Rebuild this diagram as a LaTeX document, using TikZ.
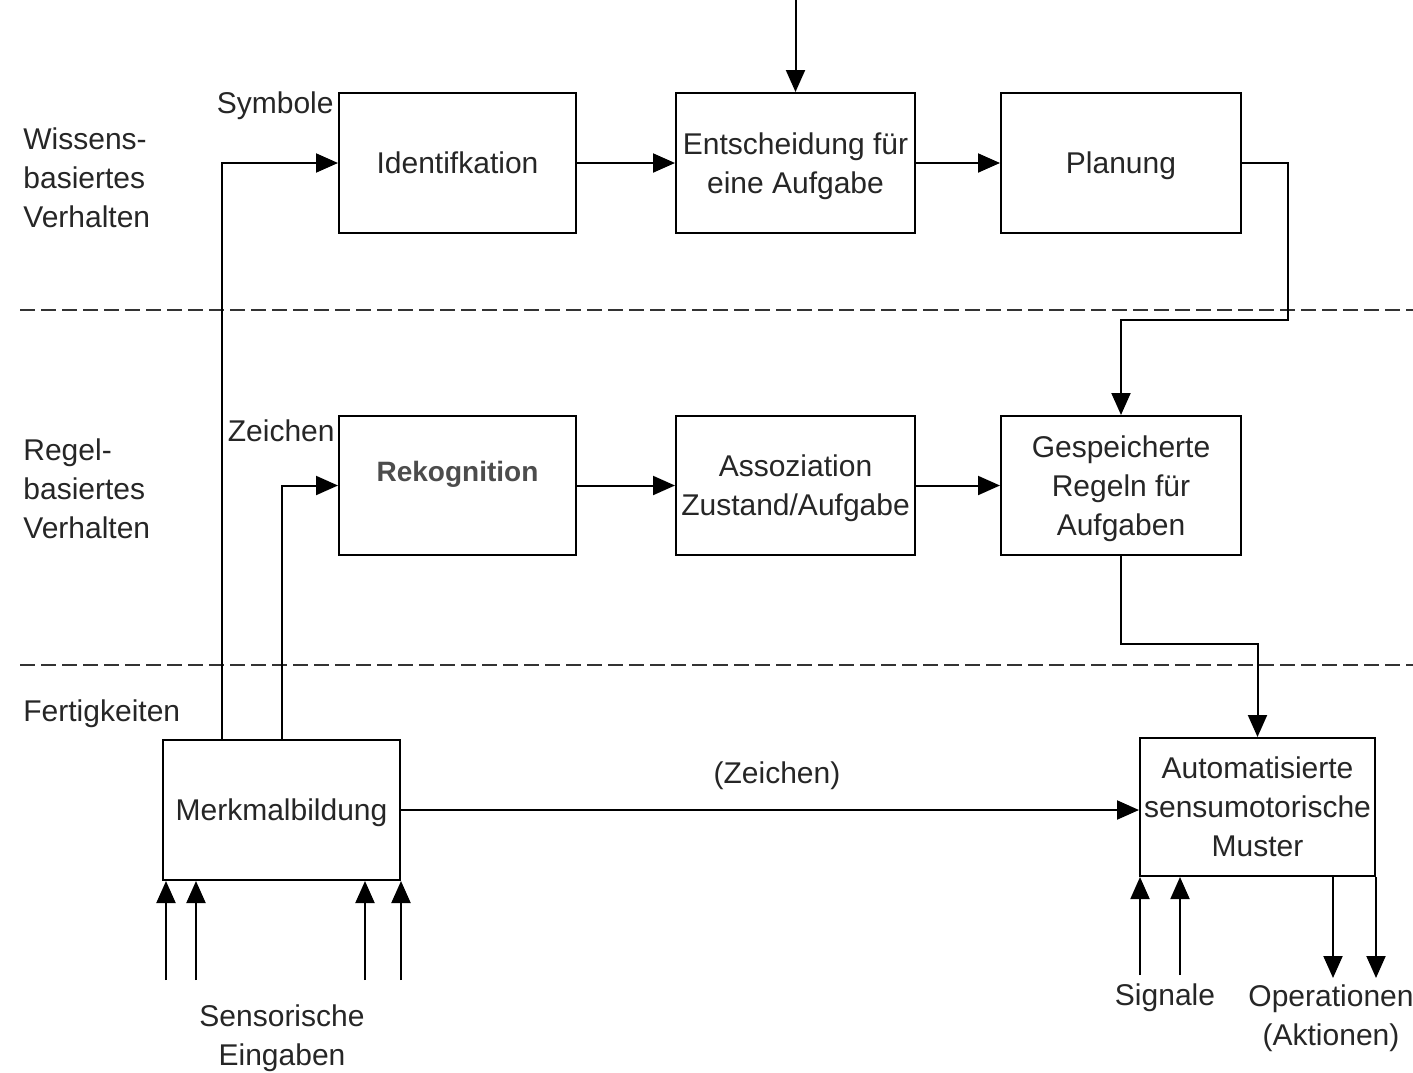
\documentclass[tikz,border=0pt]{standalone}
\usepackage{fontspec}
\setmainfont{Liberation Sans}
\usetikzlibrary{arrows.meta}
\newcommand{\lowr}{\rule{0pt}{14pt}}
\tikzset{
  box/.style={draw, line width=1pt, minimum width=118.5pt, minimum height=70pt, inner sep=0pt, align=center, text=black!85, font=\fontsize{15}{19.5}\selectfont},
  lower/.style={execute at begin node={\rule{0pt}{14pt}}},
  lbl/.style={inner sep=0pt, align=center, text=black!85, font=\fontsize{15}{19.5}\selectfont},
  conn/.style={line width=1pt, -{Triangle[length=11pt,width=9.5pt]}},
  sep/.style={line width=1pt, dash pattern=on 7.5pt off 3pt, black!80}
}
\begin{document}
\begin{tikzpicture}[x=0.5pt,y=-0.5pt]
\fill[white] (0,0) rectangle (1413,1072);
\useasboundingbox (0,0) rectangle (1413,1072);

% separators
\draw[sep] (20,310) -- (1413,310);
\draw[sep] (20,665) -- (1413,665);

% boxes
\node[box] (ident) at (457.5,163) {Identifkation};
\node[box, minimum width=119.5pt] (entsch) at (795.5,163) {\lowr Entscheidung für\\eine Aufgabe};
\node[box, lower, minimum width=120pt] (plan) at (1121,163) {Planung};
\node[box, minimum height=69.5pt, text=black!70, font=\fontsize{14}{18}\selectfont\bfseries] (rekog) at (457.5,485.5) {\raisebox{5.5pt}[\height][\depth]{Rekognition}};
\node[box, minimum width=119.5pt, minimum height=69.5pt] (assoz) at (795.5,485.5) {\lowr Assoziation\\Zustand/Aufgabe};
\node[box, minimum width=120pt, minimum height=69.5pt] (gesp) at (1121,485.5) {\lowr Gespeicherte\\Regeln für\\Aufgaben};
\node[box, lower] (merk) at (281.5,810) {Merkmalbildung};
\node[box, minimum width=117.5pt, minimum height=69pt] (auto) at (1257.5,807) {Automatisierte\\sensumotorische\\Muster};

% side labels
\node[lbl, align=left, anchor=west] (wis) at (23,178) {Wissens-\\basiertes\\Verhalten};
\node[lbl, align=left, anchor=west] (reg) at (23,489) {Regel-\\basiertes\\Verhalten};
\node[lbl, anchor=west] (fert) at (23,714) {Fertigkeiten};

\node[lbl, anchor=east] (sym) at (334,106) {Symbole};
\node[lbl, anchor=east] (zei) at (335,431) {Zeichen};
\node[lbl] (zei2) at (777,776) {(Zeichen)};
\node[lbl] (sens) at (282,1038) {Sensorische\\Eingaben};
\node[lbl] (sig) at (1165,998) {Signale};
\node[lbl] (ops) at (1331,1018) {Operationen\\(Aktionen)};

% coordinates
\coordinate (top) at (795.5,0);
\coordinate (m1) at (222,740);
\coordinate (m2) at (282,740);
\coordinate (c1) at (1288,320);
\coordinate (s1) at (166,980);
\coordinate (s2) at (196,980);
\coordinate (s3) at (365,980);
\coordinate (s4) at (401,980);
\coordinate (g1) at (1140,975);
\coordinate (g2) at (1180,975);
\coordinate (o1) at (1333,978);
\coordinate (o2) at (1376,978);

% connectors
\draw[conn] (top) -- (entsch.north);
\draw[conn] (ident.east) -- (entsch.west);
\draw[conn] (entsch.east) -- (plan.west);
\draw[conn] (m1) |- (ident.west);
\draw[conn] (m2) |- (rekog.west);
\draw[conn] (rekog.east) -- (assoz.west);
\draw[conn] (assoz.east) -- (gesp.west);
\draw[conn] (plan.east) -| (c1) -| (gesp.north);
\draw[conn] (gesp.south) -- ++(0,88) -| (auto.north);
\draw[conn] (merk.east) -- (merk.east -| auto.west);

\draw[conn] (s1) -- (s1 |- merk.south);
\draw[conn] (s2) -- (s2 |- merk.south);
\draw[conn] (s3) -- (s3 |- merk.south);
\draw[conn] (s4) -- (s4 |- merk.south);
\draw[conn] (g1) -- (g1 |- auto.south);
\draw[conn] (g2) -- (g2 |- auto.south);
\draw[conn] (o1 |- auto.south) -- (o1);
\draw[conn] (o2 |- auto.south) -- (o2);
\end{tikzpicture}
\end{document}
